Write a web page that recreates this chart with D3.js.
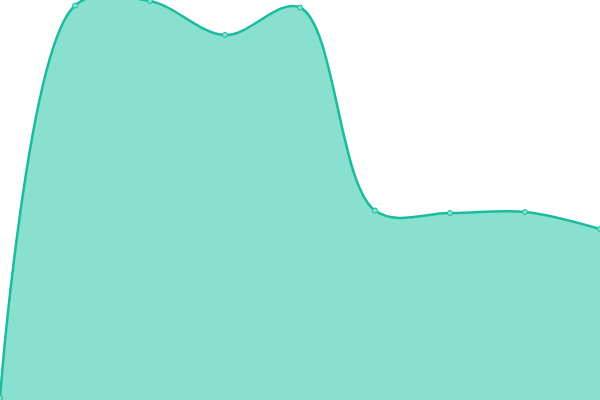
<!DOCTYPE html>
<html>
<head>
<meta charset="utf-8">
<script src="https://cdn.jsdelivr.net/npm/d3@7"></script>
<style>
  html, body { margin: 0; padding: 0; background: #fff; }
  svg { display: block; }
</style>
</head>
<body>
<script>
// values
const categories = ["A", "B", "C", "D", "E", "F", "G", "H", "I"];
const values = [2, 394.5, 399, 365, 392.5, 189.5, 187, 188, 171];

const w = 600, h = 400;

const svg = d3.select("body").append("svg")
    .attr("width", w)
    .attr("height", h);

const x = d3.scalePoint()
    .domain(categories)
    .range([0, w]);

const y = d3.scaleLinear()
    .domain([0, 400])
    .range([h, 0]);

const data = categories.map((c, i) => ({ c: c, v: values[i] }));
const curve = d3.curveCatmullRom.alpha(0.5);

const area = d3.area()
    .x(d => x(d.c))
    .y0(h)
    .y1(d => y(d.v))
    .curve(curve);

const line = d3.line()
    .x(d => x(d.c))
    .y(d => y(d.v))
    .curve(curve);

svg.append("path")
    .datum(data)
    .attr("d", area)
    .attr("fill", "#89e0cf");

svg.append("path")
    .datum(data)
    .attr("d", line)
    .attr("fill", "none")
    .attr("stroke", "#1abc9c")
    .attr("stroke-width", 2.5);

svg.selectAll("circle")
    .data(data)
    .enter().append("circle")
    .attr("cx", d => x(d.c))
    .attr("cy", d => y(d.v))
    .attr("r", 2.5)
    .attr("fill", "#89e0cf")
    .attr("stroke", "#1abc9c")
    .attr("stroke-width", 1);
</script>
</body>
</html>
